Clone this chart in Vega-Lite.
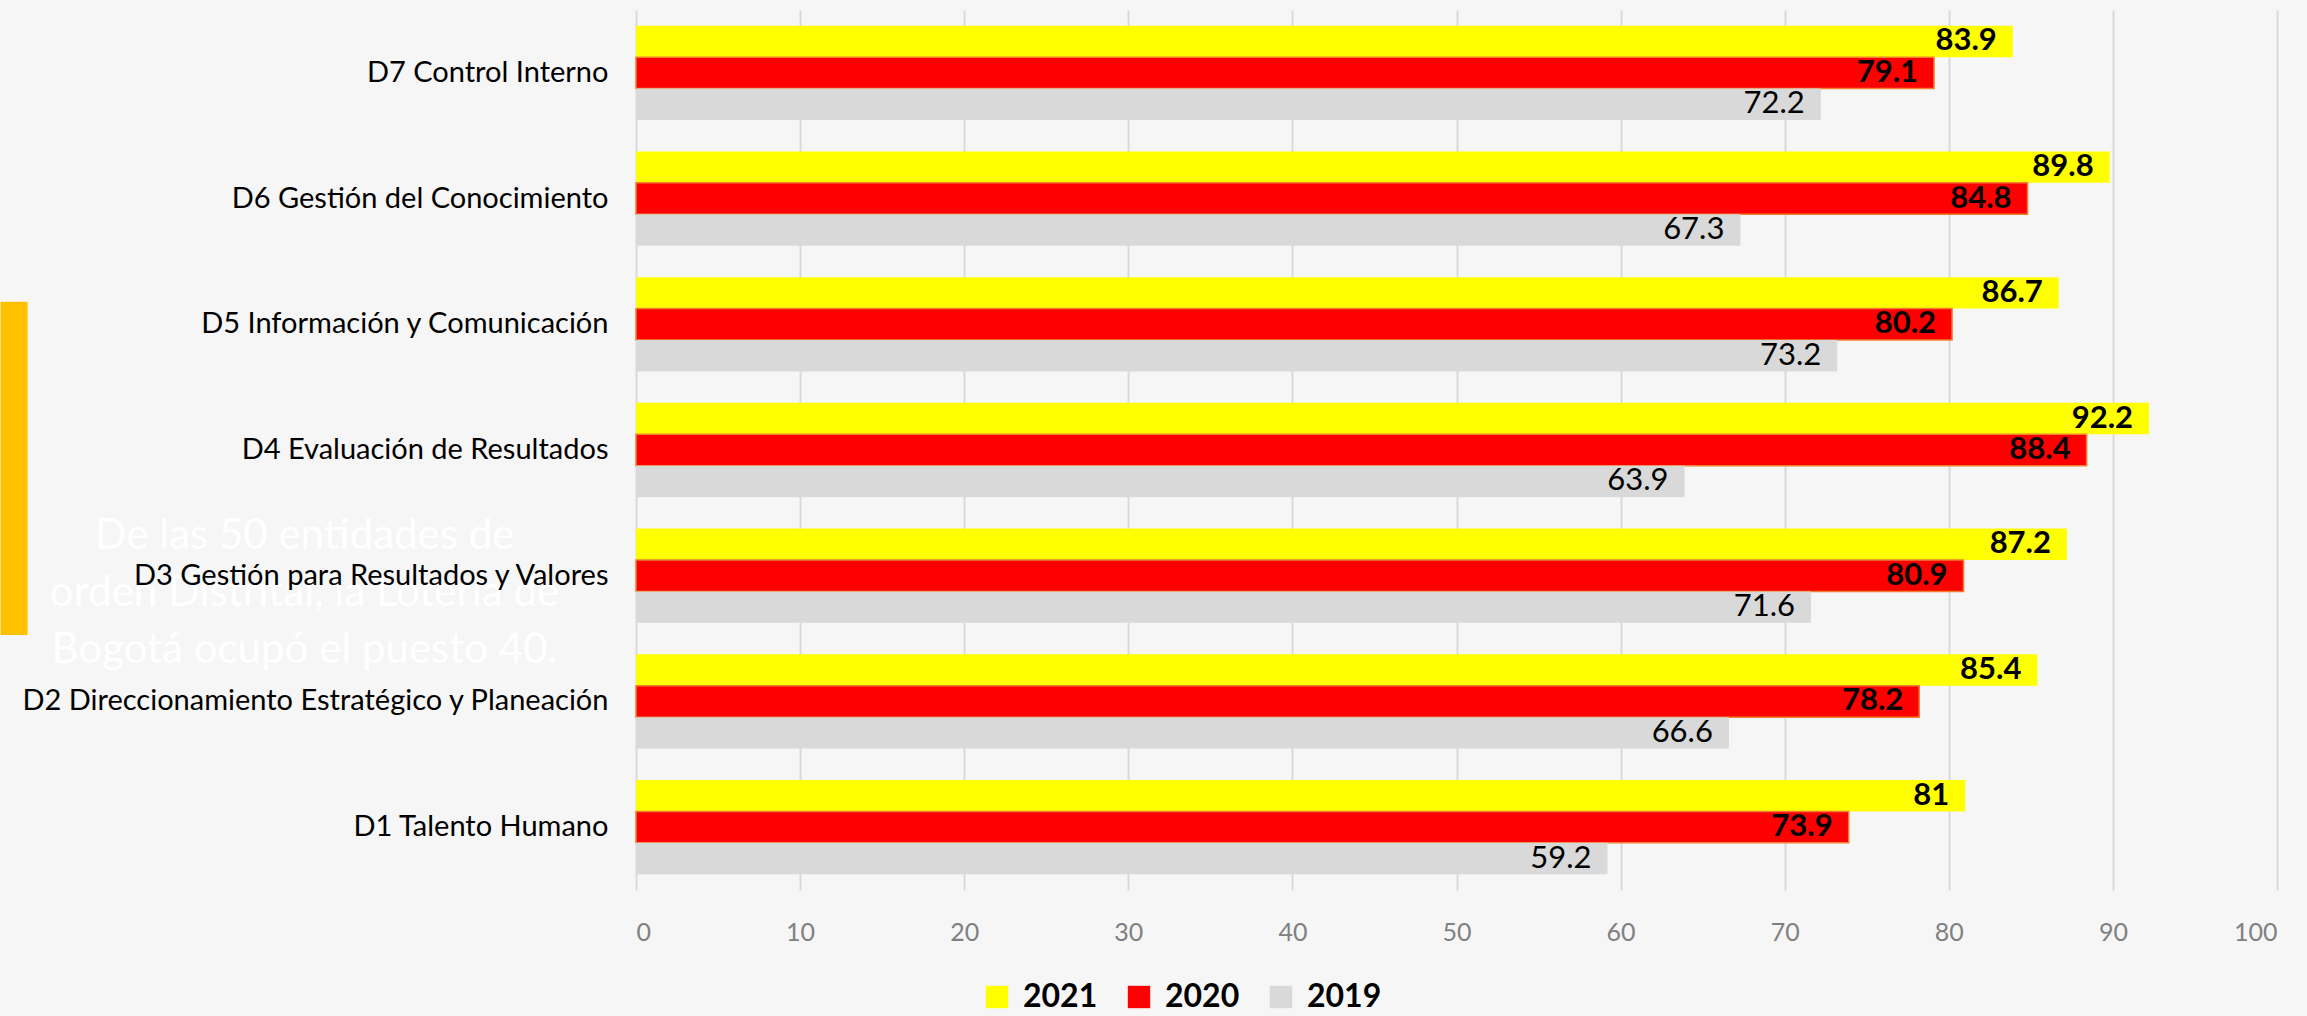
{
  "$schema": "https://vega.github.io/schema/vega-lite/v6.json",
  "width": 1641,
  "height": 880,
  "autosize": "none",
  "padding": {"left": 636, "top": 10, "right": 30, "bottom": 126},
  "background": "#F6F6F6",
  "config": {"view": {"stroke": null}, "font": "Lato"},
  "datasets": {
    "scores": [
      {"dim": "D7 Control Interno", "year": "2021", "value": 83.9},
      {"dim": "D7 Control Interno", "year": "2020", "value": 79.1},
      {"dim": "D7 Control Interno", "year": "2019", "value": 72.2},
      {"dim": "D6 Gestión del Conocimiento", "year": "2021", "value": 89.8},
      {"dim": "D6 Gestión del Conocimiento", "year": "2020", "value": 84.8},
      {"dim": "D6 Gestión del Conocimiento", "year": "2019", "value": 67.3},
      {"dim": "D5 Información y Comunicación", "year": "2021", "value": 86.7},
      {"dim": "D5 Información y Comunicación", "year": "2020", "value": 80.2},
      {"dim": "D5 Información y Comunicación", "year": "2019", "value": 73.2},
      {"dim": "D4 Evaluación de Resultados", "year": "2021", "value": 92.2},
      {"dim": "D4 Evaluación de Resultados", "year": "2020", "value": 88.4},
      {"dim": "D4 Evaluación de Resultados", "year": "2019", "value": 63.9},
      {"dim": "D3 Gestión para Resultados y Valores", "year": "2021", "value": 87.2},
      {"dim": "D3 Gestión para Resultados y Valores", "year": "2020", "value": 80.9},
      {"dim": "D3 Gestión para Resultados y Valores", "year": "2019", "value": 71.6},
      {"dim": "D2 Direccionamiento Estratégico y Planeación", "year": "2021", "value": 85.4},
      {"dim": "D2 Direccionamiento Estratégico y Planeación", "year": "2020", "value": 78.2},
      {"dim": "D2 Direccionamiento Estratégico y Planeación", "year": "2019", "value": 66.6},
      {"dim": "D1 Talento Humano", "year": "2021", "value": 81},
      {"dim": "D1 Talento Humano", "year": "2020", "value": 73.9},
      {"dim": "D1 Talento Humano", "year": "2019", "value": 59.2}
    ],
    "note": [{"note": "De las 50 entidades de\norden Distrital, la Lotería de\nBogotá ocupó el puesto 40."}],
    "accent": [{"from": "D5 Información y Comunicación", "to": "D3 Gestión para Resultados y Valores"}]
  },
  "layer": [
    {
      "data": {"name": "accent"},
      "mark": {"type": "rule", "color": "#FFC000", "strokeWidth": 27},
      "encoding": {
        "x": {"datum": -37.9, "type": "quantitative"},
        "y": {"field": "from", "type": "nominal", "sort": null, "bandPosition": 0.26},
        "y2": {"field": "to", "bandPosition": 1.13}
      }
    },
    {
      "data": {"name": "note"},
      "mark": {"type": "text", "align": "center", "baseline": "middle", "lineBreak": "\n", "lineHeight": 57, "fontSize": 42, "color": "#FFFFFF", "dy": -40},
      "encoding": {
        "text": {"field": "note", "type": "nominal"},
        "x": {"datum": -20.2, "type": "quantitative"},
        "y": {"datum": "D3 Gestión para Resultados y Valores", "type": "nominal"}
      }
    },
    {
      "data": {"name": "scores"},
      "encoding": {
        "y": {
          "field": "dim", "type": "nominal",
          "sort": null,
          "scale": {"domain": ["D7 Control Interno", "D6 Gestión del Conocimiento", "D5 Información y Comunicación", "D4 Evaluación de Resultados", "D3 Gestión para Resultados y Valores", "D2 Direccionamiento Estratégico y Planeación", "D1 Talento Humano"], "paddingInner": 0.25, "paddingOuter": 0.125},
          "axis": {"title": null, "zindex": 1, "labelFontSize": 29, "labelColor": "#000000", "labelPadding": 28, "ticks": false, "domain": false, "labelLimit": 800}
        },
        "yOffset": {"field": "year", "type": "nominal", "sort": ["2021", "2020", "2019"], "scale": {"paddingInner": 0, "paddingOuter": 0}},
        "x": {
          "field": "value", "type": "quantitative",
          "scale": {"domain": [0, 100]},
          "axis": {"title": null, "zindex": 0, "values": [0,10,20,30,40,50,60,70,80,90,100], "grid": true, "gridColor": "#D9D9D9", "gridWidth": 2, "domain": false, "ticks": false, "labelFontSize": 25, "labelColor": "#808080", "labelPadding": 30}
        }
      },
      "layer": [
        {
          "mark": {"type": "bar"},
          "encoding": {
            "color": {
              "field": "year", "type": "nominal",
              "scale": {"domain": ["2021", "2020", "2019"], "range": ["#FFFF00", "#FF0000", "#D9D9D9"]},
              "legend": {"orient": "none", "legendX": 345, "legendY": 971, "direction": "horizontal", "title": null, "symbolType": "square", "symbolSize": 500, "symbolStrokeWidth": 0, "labelFontSize": 32, "labelFontWeight": "bold", "labelColor": "#000000", "columnPadding": 25, "labelOffset": 10}
            },
            "stroke": {"condition": {"test": "datum.year == '2020'", "value": "#F08030"}, "value": null},
            "strokeWidth": {"value": 1.5}
          }
        },
        {
          "transform": [{"filter": "datum.year != '2019'"}],
          "mark": {"type": "text", "align": "right", "baseline": "middle", "dx": -16, "fontSize": 31, "fontWeight": "bold", "color": "#000000"},
          "encoding": {"text": {"field": "value", "type": "nominal"}}
        },
        {
          "transform": [{"filter": "datum.year == '2019'"}],
          "mark": {"type": "text", "align": "right", "baseline": "middle", "dx": -16, "fontSize": 31, "color": "#000000"},
          "encoding": {"text": {"field": "value", "type": "nominal"}}
        }
      ]
    }
  ]
}
